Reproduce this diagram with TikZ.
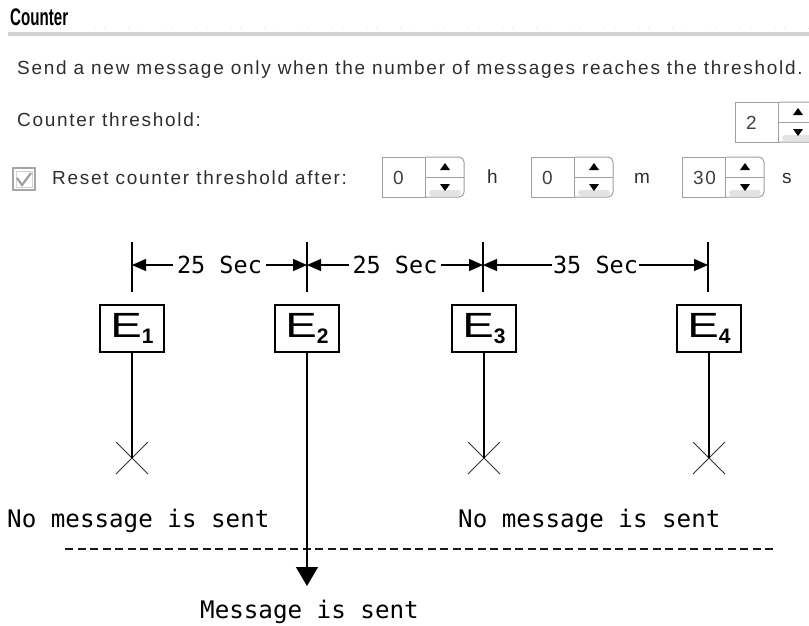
\documentclass[tikz,border=0pt]{standalone}
\usepackage{fontspec}
\usepackage{graphicx}
\setmainfont{Liberation Sans}
\newfontfamily\uifont[LetterSpace=9]{Liberation Sans}
\newfontfamily\diafont{DejaVu Sans Mono}
\usetikzlibrary{arrows.meta}

\tikzset{
  uitext/.style={font=\uifont\fontsize{19}{21}\selectfont, text=black!82, inner sep=0pt, anchor=base west},
  spinfield/.style={draw=gray!75, fill=white, line width=1pt, minimum width=43pt, minimum height=40pt, inner sep=0pt, anchor=north west},
  spinframe/.style={draw=gray!75, line width=1pt},
  ebox/.style={draw, line width=1.2pt, minimum width=64pt, minimum height=47pt, inner sep=0pt},
  timelbl/.style={font=\diafont\fontsize{23.5}{24}\selectfont, fill=white, inner xsep=4pt, inner ysep=2pt},
  dimline/.style={line width=1.3pt, {Triangle[length=14pt,width=12pt]}-{Triangle[length=14pt,width=12pt]}},
  tickline/.style={line width=1.2pt},
  flow/.style={line width=1.3pt},
  crossmark/.style={line width=1pt, black!80},
  note/.style={font=\diafont\fontsize{24.2}{25}\selectfont, inner sep=0pt, anchor=base west},
}

% spin control: #1 name, #2 left, #3 top, #4 value
\newcommand\spinctl[4]{%
  \node[spinfield] (#1) at (#2,#3) {};
  \node[uitext, anchor=west, text=black!75] (#1v) at ([xshift=11pt]#1.west) {#4};
  \draw[spinframe, fill=white, rounded corners=5pt] (#1.north east) -- ++(38,0) -- ++(0,40) -- ++(-38,0);
  \fill[gray!22, rounded corners=3pt] ([shift={(3,33)}]#1.north east) rectangle ([shift={(35,39)}]#1.north east);
  \draw[spinframe] (#1.east) -- ++(38,0);
  \fill[black] ([shift={(19,6)}]#1.north east) -- ++(5,7) -- ++(-10,0) -- cycle;
  \fill[black] ([shift={(19,34)}]#1.north east) -- ++(5,-7) -- ++(-10,0) -- cycle;
}

\newcommand\evlabel[1]{{\fontsize{35}{35}\selectfont\scalebox{1.35}[1]{E}}\raisebox{-6pt}{\fontsize{21}{21}\selectfont\bfseries #1}}

\begin{document}
\begin{tikzpicture}[x=1pt,y=-1pt]
  \useasboundingbox (0,0) rectangle (809,625);
  \fill[white] (0,0) rectangle (809,625);

  % ---- settings panel ----
  \node[inner sep=0pt, anchor=base west, font=\fontsize{24}{26}\selectfont\bfseries] (title) at (10,25) {\scalebox{0.63}[1]{Counter}};
  \draw[gray!25, line width=0.8pt, dash pattern=on 1pt off 9pt on 1pt off 23pt] (60,28) -- (809,28);
  \draw[gray!35, line width=3.5pt] (8,34) -- (809,34);

  \node[uitext] (intro) at (17,74) {Send a new message only when the number of messages reaches the threshold.};
  \node[uitext] (thr) at (17,126) {Counter threshold:};
  \spinctl{thrval}{735}{102}{2}

  % checkbox
  \draw[gray!70, line width=1.3pt] (13,168) rectangle (35,190);
  \draw[gray!35, line width=0.8pt] (16,171) rectangle (32,187);
  \draw[gray!75, line width=2.2pt] (17,178) -- (22,185) -- (31,173);
  \node[uitext] (reset) at (52,184) {Reset counter threshold after:};

  \spinctl{hrs}{382}{157}{0}
  \node[uitext] (hlbl) at (487,183) {h};
  \spinctl{mins}{531}{157}{0}
  \node[uitext] (mlbl) at (634,183) {m};
  \spinctl{secs}{682}{157}{30}
  \node[uitext] (slbl) at (782,183) {s};

  % ---- timeline ----
  \foreach \i/\x in {1/132, 2/307, 3/483, 4/708} {
    \coordinate (tt\i) at (\x,242);
    \coordinate (tb\i) at (\x,292);
    \coordinate (t\i) at (\x,265);
    \draw[tickline] (tt\i) -- (tb\i);
  }
  \draw[dimline] (t1) -- (t2) node[timelbl, midway] (d12) {25 Sec};
  \draw[dimline] (t2) -- (t3) node[timelbl, midway] (d23) {25 Sec};
  \draw[dimline] (t3) -- (t4) node[timelbl, midway, inner xsep=1pt] (d34) {35 Sec};

  % events
  \node[ebox] (E1) at (132,328.5) {\evlabel{1}};
  \node[ebox] (E2) at (307,328.5) {\evlabel{2}};
  \node[ebox] (E3) at (484,328.5) {\evlabel{3}};
  \node[ebox] (E4) at (709,328.5) {\evlabel{4}};

  \coordinate (x1) at (132,458);
  \coordinate (x3) at (484,458);
  \coordinate (x4) at (709,458);
  \foreach \c in {x1,x3,x4} {
    \draw[crossmark] ([shift={(-16,-16)}]\c) -- ([shift={(16,16)}]\c);
    \draw[crossmark] ([shift={(-16,16)}]\c) -- ([shift={(16,-16)}]\c);
  }
  \draw[flow] (E1.south) -- (x1);
  \draw[flow] (E3.south) -- (x3);
  \draw[flow] (E4.south) -- (x4);

  % threshold line
  \coordinate (dl) at (65,549);
  \coordinate (dr) at (773,549);
  \draw[black!90, line width=1.2pt, dash pattern=on 8pt off 4.5pt] (dl) -- (dr);

  \coordinate (a2) at (307,586);
  \draw[flow, -{Triangle[length=19pt,width=22pt]}] (E2.south) -- (a2);

  \node[note] (nomsg1) at (7,527) {No message is sent};
  \node[note] (nomsg2) at (458,527) {No message is sent};
  \node[note] (sent) at (200,618) {Message is sent};
\end{tikzpicture}
\end{document}
